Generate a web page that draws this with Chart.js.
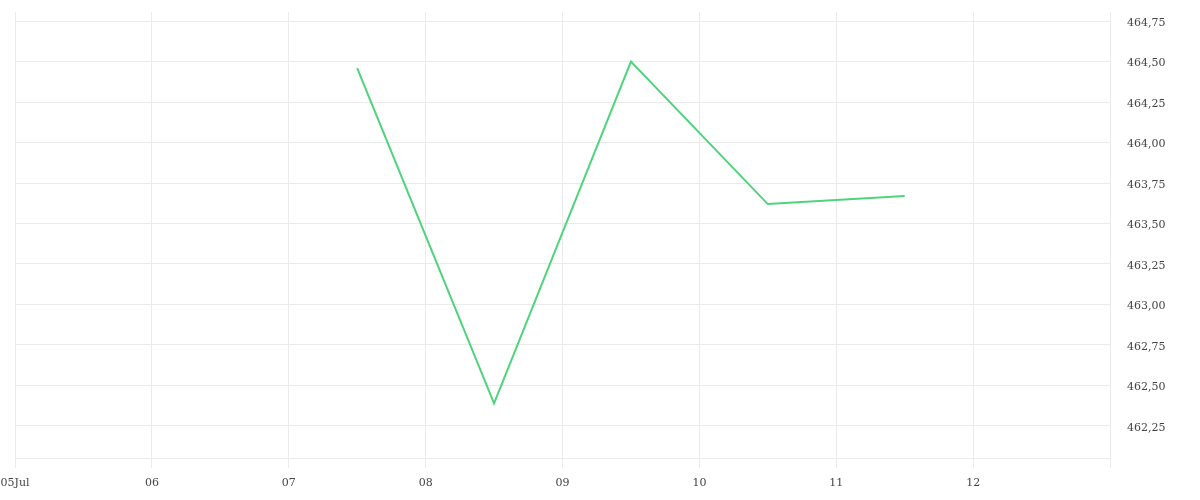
<!DOCTYPE html>
<html>
<head>
<meta charset="utf-8">
<script src="https://cdn.jsdelivr.net/npm/chart.js@4/dist/chart.umd.min.js"></script>
<style>
  html, body { margin: 0; padding: 0; background: #ffffff; }
  #wrap { width: 1200px; height: 500px; position: relative; }
</style>
</head>
<body>
<div id="wrap"><canvas id="c"></canvas></div>
<script>
// Data (x = day of July, points at noon)
const xDays = [7.5, 8.5, 9.5, 10.5, 11.5];
const values = [464.46, 462.39, 464.50, 463.62, 463.67];
const xTickDays = [5, 6, 7, 8, 9, 10, 11, 12, 13];
const xTickLabels = ['05Jul', '06', '07', '08', '09', '10', '11', '12', ''];

const points = xDays.map((d, i) => ({ x: d, y: values[i] }));
const gridColor = '#ebebeb';
const fontSpec = { family: "'DejaVu Serif', serif", size: 11 };

new Chart(document.getElementById('c'), {
  type: 'line',
  data: {
    datasets: [{
      data: points,
      borderColor: '#4fd37c',
      borderWidth: 2,
      pointRadius: 0,
      pointHoverRadius: 0,
      fill: false,
      tension: 0
    }]
  },
  options: {
    responsive: true,
    maintainAspectRatio: false,
    animation: false,
    layout: { autoPadding: false, padding: { top: 12, right: 34, bottom: 10, left: 15 } },
    plugins: { legend: { display: false }, tooltip: { enabled: false } },
    scales: {
      x: {
        type: 'linear',
        min: 5,
        max: 13,
        afterBuildTicks: (axis) => { axis.ticks = xTickDays.map(v => ({ value: v })); },
        afterFit: (s) => { s.height = 32; s.paddingLeft = 0; s.paddingRight = 0; },
        ticks: {
          color: '#444',
          font: fontSpec,
          padding: 9,
          maxRotation: 0,
          autoSkip: false,
          callback: (v) => xTickLabels[xTickDays.indexOf(v)]
        },
        grid: { color: gridColor, tickLength: 10, drawTicks: true },
        border: { color: gridColor }
      },
      y: {
        position: 'right',
        min: 462.052,
        max: 464.806,
        afterFit: (s) => { s.width = 56; s.paddingTop = 0; s.paddingBottom = 0; },
        ticks: {
          stepSize: 0.25,
          includeBounds: false,
          color: '#444',
          font: fontSpec,
          padding: 17,
          labelOffset: 2,
          callback: (v) => v.toFixed(2).replace('.', ',')
        },
        grid: { color: gridColor, drawTicks: false },
        border: { display: false }
      }
    }
  }
});
</script>
</body>
</html>
